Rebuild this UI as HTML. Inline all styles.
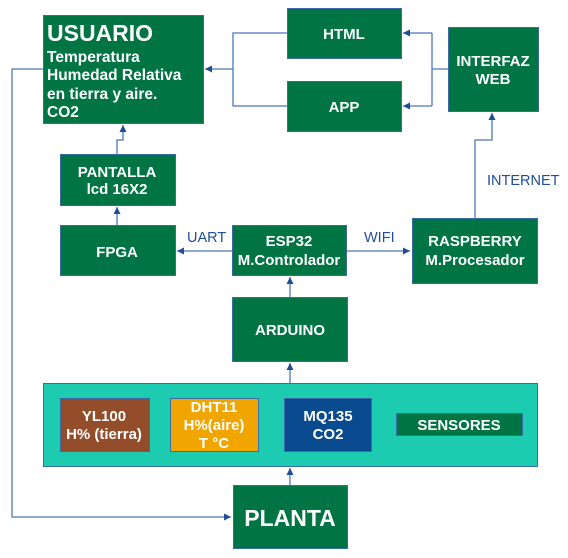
<!DOCTYPE html>
<html><head><style>body{margin:0;background:#fff}svg{display:block}text{font-family:"Liberation Sans",sans-serif;font-weight:bold;fill:#fff}</style></head><body>
<svg width="568" height="558" viewBox="0 0 568 558">
<defs><marker id="a" markerWidth="8" markerHeight="8" refX="7" refY="4" orient="auto" markerUnits="userSpaceOnUse"><path d="M0,0.5 L7,4 L0,7.5Z" fill="#1f4e96"/></marker></defs>
<g fill="none" stroke="#4a78b8" stroke-width="1.3">
<path d="M43,69 H12 V517 H231" marker-end="url(#a)"/>
<path d="M287,33 H233 V106 H287"/>
<path d="M233,69 H205" marker-end="url(#a)"/>
<path d="M448,69 H432 M432,33 V106"/>
<path d="M432,33 H403" marker-end="url(#a)"/>
<path d="M432,106 H403" marker-end="url(#a)"/>
<path d="M475,218 V140 H492 V113" marker-end="url(#a)"/>
<path d="M117,154 V140 H123 V125" marker-end="url(#a)"/>
<path d="M117,225 V207" marker-end="url(#a)"/>
<path d="M232,251 H177" marker-end="url(#a)"/>
<path d="M346,251 H410" marker-end="url(#a)"/>
<path d="M290,297 V277" marker-end="url(#a)"/>
<path d="M290,383 V363" marker-end="url(#a)"/>
<path d="M290,485 V468" marker-end="url(#a)"/>
</g>
<g stroke="#3a6aa8" stroke-width="1">
<rect x="43.5" y="15.5" width="160" height="108" fill="#007443"/>
<rect x="287.5" y="8.5" width="114" height="50" fill="#007443"/>
<rect x="287.5" y="81.5" width="114" height="50" fill="#007443"/>
<rect x="448.5" y="27.5" width="90" height="84" fill="#007443"/>
<rect x="60.5" y="154.5" width="115" height="51" fill="#007443"/>
<rect x="60.5" y="225.5" width="115" height="50" fill="#007443"/>
<rect x="232.5" y="225.5" width="114" height="50" fill="#007443"/>
<rect x="412.5" y="218.5" width="125" height="65" fill="#007443"/>
<rect x="232.5" y="297.5" width="115" height="64" fill="#007443"/>
<rect x="43.5" y="383.5" width="494" height="83" fill="#1ccbb0"/>
<rect x="60.5" y="398.5" width="89" height="53" fill="#944d2a"/>
<rect x="170.5" y="398.5" width="88" height="53" fill="#f0a500"/>
<rect x="284.5" y="398.5" width="87" height="53" fill="#0a4a8f"/>
<rect x="396.5" y="413.5" width="126" height="22" fill="#007443"/>
<rect x="233.5" y="485.5" width="114" height="63" fill="#007443"/>
</g>
<text x="47" y="41" font-size="23">USUARIO</text>
<g font-size="15.5"><text x="47" y="62">Temperatura</text><text x="47" y="80">Humedad Relativa</text><text x="47" y="99">en tierra y aire.</text><text x="47" y="117">CO2</text></g>
<g font-size="15" text-anchor="middle">
<text x="344" y="39">HTML</text><text x="344" y="112">APP</text>
<text x="493" y="66">INTERFAZ</text><text x="493" y="84">WEB</text>
<text x="117" y="177">PANTALLA</text><text x="117" y="194">lcd 16X2</text>
<text x="117" y="257">FPGA</text>
<text x="289" y="246">ESP32</text><text x="289" y="265">M.Controlador</text>
<text x="475" y="246">RASPBERRY</text><text x="475" y="265">M.Procesador</text>
<text x="290" y="335">ARDUINO</text>
<text x="104" y="421">YL100</text><text x="104" y="439">H% (tierra)</text>
<text x="214" y="412">DHT11</text><text x="214" y="430">H%(aire)</text><text x="214" y="448">T °C</text>
<text x="328" y="421">MQ135</text><text x="328" y="439">CO2</text>
<text x="459" y="430">SENSORES</text>
<text x="290" y="526" font-size="23">PLANTA</text>
</g>
<g font-size="14.5">
<text x="187" y="242" style="fill:#1f4e96;font-weight:normal">UART</text>
<text x="364" y="242" style="fill:#1f4e96;font-weight:normal">WIFI</text>
<text x="487" y="185" style="fill:#1f4e96;font-weight:normal">INTERNET</text>
</g>
</svg>
</body></html>
